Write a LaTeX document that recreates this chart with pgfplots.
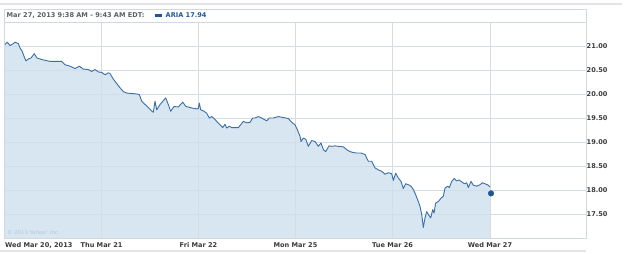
\documentclass[border=0pt]{standalone}
\usepackage{pgfplots}
\pgfplotsset{compat=1.18}
\usepackage{pgfplotstable}
\usepackage{fontspec}
\setmainfont{DejaVu Sans}
\definecolor{fillc}{HTML}{D7E6F1}
\definecolor{linec}{HTML}{3B6EA5}
\definecolor{gridc}{HTML}{D3DDE6}
\definecolor{framec}{HTML}{D0D8E0}
\definecolor{dotc}{HTML}{1F5795}
\definecolor{headc}{HTML}{5E5E5E}
\definecolor{labc}{HTML}{3A3A3A}
\definecolor{copyc}{HTML}{B5C8D8}
\definecolor{barc}{HTML}{E4E4E4}

\pgfplotstableread{
x y
1 21.03
3.3 21.08
6 21.01
9.3 21.05
11 21.08
14.3 21.05
16 20.96
18 20.90
20.5 20.76
22 20.69
24.3 20.73
27 20.75
30.3 20.84
33 20.75
36 20.73
39.3 20.71
46 20.68
57.7 20.68
61 20.61
66 20.58
71 20.53
73 20.55
75.3 20.58
79.3 20.52
84.3 20.51
87.7 20.47
91 20.51
94.3 20.46
97.7 20.45
101 20.40
104.3 20.44
106 20.43
109.3 20.31
112.7 20.22
116 20.13
119.3 20.05
122.7 20.02
127.7 20.01
132.7 20.00
135.3 19.99
137.7 19.85
142.7 19.75
146 19.68
148 19.64
149.3 19.62
151 19.85
152.7 19.67
156 19.78
161.7 19.92
164.3 19.78
166.7 19.64
170 19.74
174.3 19.73
178.7 19.83
182 19.74
187.7 19.71
192.7 19.69
194.3 19.70
195.3 19.81
196.7 19.67
199.3 19.65
202.7 19.60
205.3 19.50
207.7 19.53
210 19.49
212.7 19.43
216 19.36
218.7 19.30
221 19.37
222.7 19.29
225.3 19.33
227.7 19.30
234.3 19.30
236.7 19.36
239.3 19.43
242.7 19.40
246 19.41
248.7 19.50
251 19.50
254.3 19.53
257.7 19.50
262.7 19.44
265.3 19.50
269.3 19.50
274.3 19.53
279.3 19.51
284.3 19.49
287.7 19.41
291 19.36
293.3 19.26
296 19.12
297 19.01
299.3 19.08
301.7 19.06
304.3 18.91
307.7 19.03
311 19.01
314.3 18.91
317 18.98
319.3 18.84
321.7 18.80
325 18.92
327.7 18.91
331 18.92
334.3 18.91
339.3 18.90
342.7 18.84
346 18.80
349.3 18.78
352.7 18.77
357 18.77
361 18.74
364.3 18.60
367.7 18.60
371 18.46
374.3 18.42
377.7 18.39
381 18.33
384.3 18.36
387.7 18.34
389.3 18.20
391.7 18.35
394.3 18.25
397 18.18
399.3 18.03
401.7 18.13
404.3 18.11
407 18.08
409.3 18.01
411.7 17.90
414.3 17.76
416 17.66
417.7 17.49
419.3 17.22
421 17.42
422.7 17.55
424.3 17.49
426.7 17.42
428.7 17.59
430 17.52
431.7 17.73
434.3 17.76
437 17.83
439.3 17.87
441 18.04
443.7 18.08
445.3 18.05
447.7 18.18
450.3 18.24
452.7 18.19
455 18.21
457.7 18.17
460.3 18.13
462.7 18.15
464.3 18.05
467 18.18
469.3 18.10
472.7 18.08
476 18.11
478.3 18.15
481 18.13
484.3 18.10
486 18.06
}\pricedata

\begin{document}
\begin{tikzpicture}[x=1bp,y=-1bp,font=\fontsize{6.6}{7}\selectfont\bfseries]
\fill[barc] (0,3) rectangle (622,5);
\fill[barc] (0,249.5) rectangle (586,252);
\draw[framec, line width=0.8bp] (4,9) rectangle (586,22);
\node[anchor=west, inner sep=0pt, text=headc] at (6.5,15.5) {Mar 27, 2013 9:38 AM - 9:43 AM EDT:};
\fill[dotc] (155,14) rectangle (162,16.8);
\node[anchor=west, inner sep=0pt, text=dotc] at (165.5,15.5) {ARIA 17.94};
\coordinate (SW) at (4,238);
\begin{axis}[
  at={(SW)}, anchor=south west,
  scale only axis, width=582bp, height=216bp,
  xmin=0, xmax=582, ymin=17, ymax=21.5,
  set layers, axis on top,
  axis line style={draw=framec, line width=0.8bp},
  xtick={97.5,194.5,291.5,388.5,486},
  xticklabels={Thu Mar 21, Fri Mar 22, Mon Mar 25, Tue Mar 26, Wed Mar 27},
  extra x ticks={0},
  extra x tick labels={Wed Mar 20{,} 2013},
  extra x tick style={grid=none, xticklabel style={anchor=north west, xshift=1bp}},
  xticklabel style={inner sep=0pt, yshift=-4.5bp, text=labc},
  ytick={17.5,18,18.5,19,19.5,20,20.5,21},
  yticklabel pos=right,
  yticklabel style={inner sep=0pt, xshift=0.5bp, text=labc, anchor=west,
    /pgf/number format/.cd, fixed, fixed zerofill, precision=2},
  /pgf/number format/assume math mode=true,
  major tick length=0pt,
  grid=major,
  major grid style={draw=gridc, line width=0.8bp},
]
\addplot[fill=fillc, draw=none] table[x=x,y=y] {\pricedata} \closedcycle;
\addplot[linec, line width=0.9bp, line join=round, on layer=axis foreground] table[x=x,y=y] {\pricedata};
\addplot[only marks, mark=*, mark size=2.8bp, color=dotc, mark options={draw=dotc, fill=dotc}, on layer=axis foreground, mark layer=axis foreground] coordinates {(487,17.93)};
\end{axis}
\node[anchor=west, inner sep=0pt, text=copyc, font=\fontsize{5.4}{6}\selectfont] at (7,232) {© 2013 Yahoo! Inc.};
\pgfresetboundingbox
\path[use as bounding box] (0,0) rectangle (625,253);
\end{tikzpicture}
\end{document}
